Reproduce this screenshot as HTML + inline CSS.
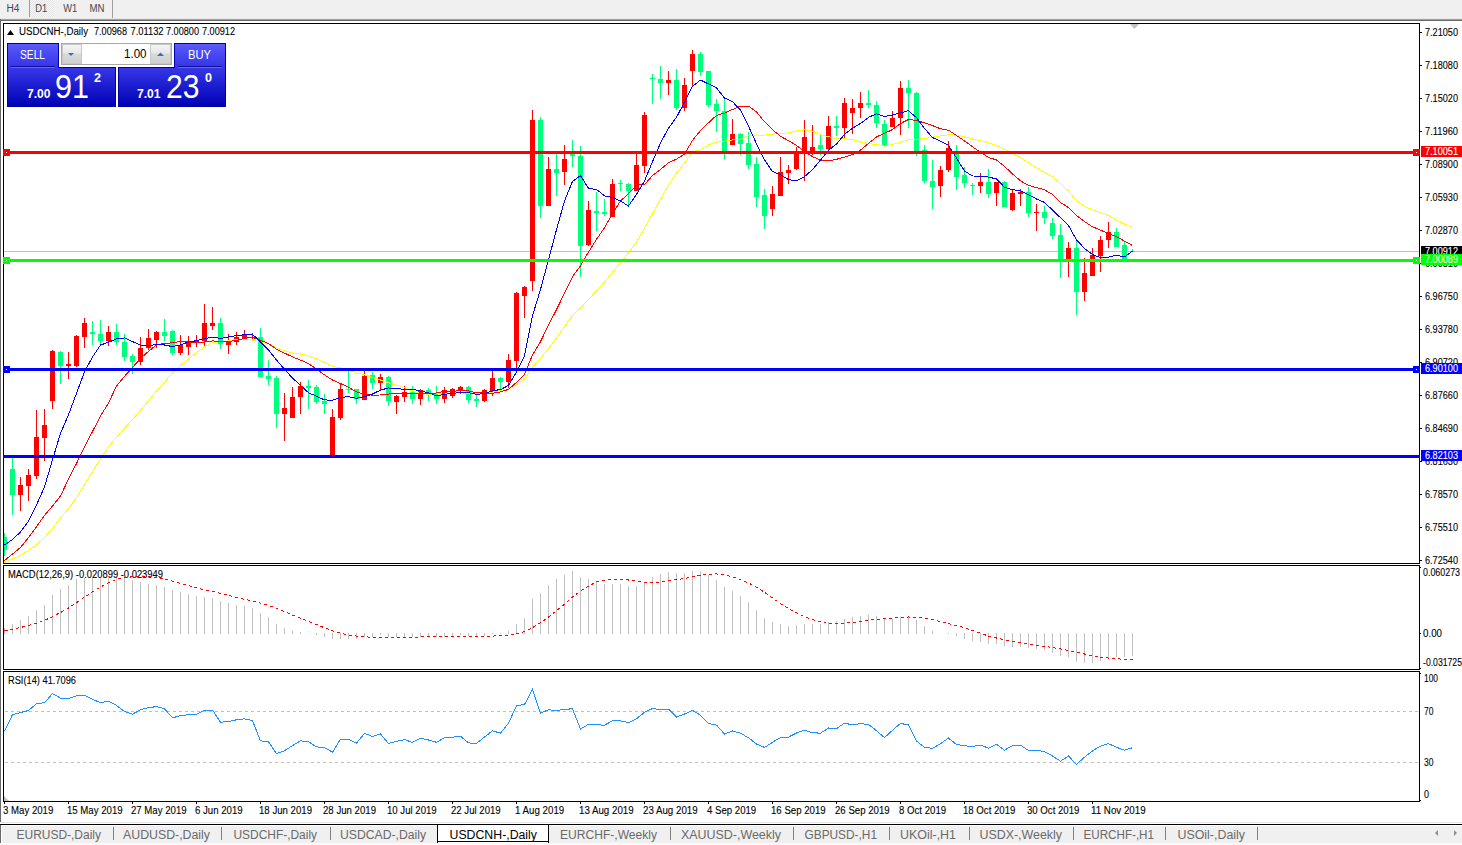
<!DOCTYPE html><html><head><meta charset="utf-8"><style>
html,body{margin:0;padding:0;width:1462px;height:845px;overflow:hidden;background:#fff;}
svg{display:block;font-family:"Liberation Sans",sans-serif;} text.k{stroke:#000;stroke-width:0.1;}
</style></head><body>
<svg width="1462" height="845" viewBox="0 0 1462 845">
<defs>
<pattern id="chk" width="2" height="2" patternUnits="userSpaceOnUse"><rect width="2" height="2" fill="#f7f7f7"/><rect width="1" height="1" fill="#e3e3e3"/><rect x="1" y="1" width="1" height="1" fill="#e3e3e3"/></pattern>
<linearGradient id="hdr" x1="0" y1="0" x2="0" y2="1"><stop offset="0" stop-color="#5c5cff"/><stop offset="1" stop-color="#3434e6"/></linearGradient>
<linearGradient id="blk" x1="0" y1="0" x2="0" y2="1"><stop offset="0" stop-color="#3838ea"/><stop offset="1" stop-color="#0000b4"/></linearGradient>
<linearGradient id="spb" x1="0" y1="0" x2="0" y2="1"><stop offset="0" stop-color="#f4f4f4"/><stop offset="0.45" stop-color="#e8e8e8"/><stop offset="0.5" stop-color="#d8d8d8"/><stop offset="1" stop-color="#cfcfcf"/></linearGradient>
<clipPath id="cmain"><rect x="4" y="24" width="1415" height="539"/></clipPath>
<clipPath id="cmacd"><rect x="4" y="566" width="1415" height="103"/></clipPath>
<clipPath id="crsi"><rect x="4" y="672" width="1415" height="129"/></clipPath>
</defs>
<rect x="0" y="0" width="1462" height="18" fill="#f0f0f0"/>
<rect x="30" y="0" width="24" height="17" fill="url(#chk)"/>
<rect x="29" y="0" width="1" height="17" fill="#a0a0a0"/>
<rect x="112" y="0" width="1" height="19" fill="#a0a0a0"/>
<rect x="0" y="18" width="1462" height="1" fill="#e8e8e8"/>
<rect x="0" y="19" width="1462" height="1" fill="#a0a0a0"/>
<rect x="0" y="20" width="1462" height="1" fill="#6a6a6a"/>
<text x="6.5" y="12" font-size="10" fill="#484848" textLength="13" lengthAdjust="spacingAndGlyphs">H4</text>
<text x="35.3" y="12" font-size="10" fill="#484848" textLength="12" lengthAdjust="spacingAndGlyphs">D1</text>
<text x="63.3" y="12" font-size="10" fill="#484848" textLength="14" lengthAdjust="spacingAndGlyphs">W1</text>
<text x="89.5" y="12" font-size="10" fill="#484848" textLength="15" lengthAdjust="spacingAndGlyphs">MN</text>
<rect x="0" y="19" width="1" height="803" fill="#6a6a6a"/>
<g shape-rendering="crispEdges" fill="none" stroke="#000" stroke-width="1">
<path d="M3.5,23.5H1419.5V563.5H3.5Z"/>
<path d="M3.5,565.5H1419.5V669.5H3.5Z"/>
<path d="M3.5,671.5H1419.5V801.5H3.5Z"/>
</g>
<g clip-path="url(#cmain)" shape-rendering="crispEdges">
<rect x="4" y="251" width="1415" height="1" fill="#c0c0c0"/>
<rect x="4" y="533" width="1" height="23" fill="#00ff7f"/>
<rect x="2" y="537" width="5" height="13" fill="#00ff7f"/>
<rect x="12" y="458" width="1" height="57" fill="#00ff7f"/>
<rect x="10" y="469" width="5" height="26" fill="#00ff7f"/>
<rect x="20" y="477" width="1" height="34" fill="#ff0000"/>
<rect x="18" y="485" width="5" height="10" fill="#ff0000"/>
<rect x="28" y="469" width="1" height="32" fill="#ff0000"/>
<rect x="26" y="475" width="5" height="11" fill="#ff0000"/>
<rect x="36" y="410" width="1" height="69" fill="#ff0000"/>
<rect x="34" y="437" width="5" height="39" fill="#ff0000"/>
<rect x="44" y="409" width="1" height="52" fill="#ff0000"/>
<rect x="42" y="425" width="5" height="13" fill="#ff0000"/>
<rect x="52" y="350" width="1" height="59" fill="#ff0000"/>
<rect x="50" y="351" width="5" height="50" fill="#ff0000"/>
<rect x="60" y="351" width="1" height="33" fill="#00ff7f"/>
<rect x="58" y="352" width="5" height="14" fill="#00ff7f"/>
<rect x="68" y="352" width="1" height="27" fill="#ff0000"/>
<rect x="66" y="364" width="5" height="2" fill="#ff0000"/>
<rect x="76" y="335" width="1" height="32" fill="#ff0000"/>
<rect x="74" y="336" width="5" height="30" fill="#ff0000"/>
<rect x="84" y="318" width="1" height="30" fill="#ff0000"/>
<rect x="82" y="323" width="5" height="14" fill="#ff0000"/>
<rect x="92" y="321" width="1" height="24" fill="#00ff7f"/>
<rect x="90" y="332" width="5" height="2" fill="#00ff7f"/>
<rect x="100" y="320" width="1" height="26" fill="#00ff7f"/>
<rect x="98" y="334" width="5" height="7" fill="#00ff7f"/>
<rect x="108" y="326" width="1" height="20" fill="#ff0000"/>
<rect x="106" y="332" width="5" height="9" fill="#ff0000"/>
<rect x="116" y="324" width="1" height="21" fill="#00ff7f"/>
<rect x="114" y="332" width="5" height="10" fill="#00ff7f"/>
<rect x="124" y="334" width="1" height="27" fill="#00ff7f"/>
<rect x="122" y="342" width="5" height="15" fill="#00ff7f"/>
<rect x="132" y="354" width="1" height="20" fill="#00ff7f"/>
<rect x="130" y="356" width="5" height="6" fill="#00ff7f"/>
<rect x="140" y="337" width="1" height="28" fill="#ff0000"/>
<rect x="138" y="348" width="5" height="14" fill="#ff0000"/>
<rect x="148" y="329" width="1" height="21" fill="#ff0000"/>
<rect x="146" y="338" width="5" height="10" fill="#ff0000"/>
<rect x="156" y="331" width="1" height="17" fill="#ff0000"/>
<rect x="154" y="332" width="5" height="8" fill="#ff0000"/>
<rect x="164" y="319" width="1" height="22" fill="#00ff7f"/>
<rect x="162" y="332" width="5" height="4" fill="#00ff7f"/>
<rect x="172" y="330" width="1" height="25" fill="#00ff7f"/>
<rect x="170" y="331" width="5" height="22" fill="#00ff7f"/>
<rect x="180" y="335" width="1" height="20" fill="#ff0000"/>
<rect x="178" y="345" width="5" height="8" fill="#ff0000"/>
<rect x="188" y="336" width="1" height="19" fill="#ff0000"/>
<rect x="186" y="341" width="5" height="6" fill="#ff0000"/>
<rect x="196" y="335" width="1" height="12" fill="#ff0000"/>
<rect x="194" y="340" width="5" height="2" fill="#ff0000"/>
<rect x="204" y="304" width="1" height="42" fill="#ff0000"/>
<rect x="202" y="323" width="5" height="18" fill="#ff0000"/>
<rect x="212" y="307" width="1" height="23" fill="#ff0000"/>
<rect x="210" y="323" width="5" height="3" fill="#ff0000"/>
<rect x="220" y="318" width="1" height="31" fill="#00ff7f"/>
<rect x="218" y="323" width="5" height="21" fill="#00ff7f"/>
<rect x="228" y="334" width="1" height="20" fill="#ff0000"/>
<rect x="226" y="342" width="5" height="3" fill="#ff0000"/>
<rect x="236" y="332" width="1" height="13" fill="#ff0000"/>
<rect x="234" y="337" width="5" height="5" fill="#ff0000"/>
<rect x="244" y="330" width="1" height="9" fill="#ff0000"/>
<rect x="242" y="334" width="5" height="5" fill="#ff0000"/>
<rect x="252" y="333" width="1" height="7" fill="#ff0000"/>
<rect x="250" y="337" width="5" height="1" fill="#ff0000"/>
<rect x="260" y="328" width="1" height="49" fill="#00ff7f"/>
<rect x="258" y="337" width="5" height="40" fill="#00ff7f"/>
<rect x="268" y="360" width="1" height="25" fill="#00ff7f"/>
<rect x="266" y="376" width="5" height="3" fill="#00ff7f"/>
<rect x="276" y="376" width="1" height="52" fill="#00ff7f"/>
<rect x="274" y="378" width="5" height="36" fill="#00ff7f"/>
<rect x="284" y="393" width="1" height="48" fill="#ff0000"/>
<rect x="282" y="408" width="5" height="6" fill="#ff0000"/>
<rect x="292" y="387" width="1" height="31" fill="#ff0000"/>
<rect x="290" y="397" width="5" height="21" fill="#ff0000"/>
<rect x="300" y="382" width="1" height="32" fill="#ff0000"/>
<rect x="298" y="386" width="5" height="11" fill="#ff0000"/>
<rect x="308" y="380" width="1" height="29" fill="#00ff7f"/>
<rect x="306" y="386" width="5" height="2" fill="#00ff7f"/>
<rect x="316" y="385" width="1" height="19" fill="#00ff7f"/>
<rect x="314" y="387" width="5" height="15" fill="#00ff7f"/>
<rect x="324" y="394" width="1" height="20" fill="#00ff7f"/>
<rect x="322" y="401" width="5" height="3" fill="#00ff7f"/>
<rect x="332" y="409" width="1" height="47" fill="#ff0000"/>
<rect x="330" y="417" width="5" height="38" fill="#ff0000"/>
<rect x="340" y="384" width="1" height="36" fill="#ff0000"/>
<rect x="338" y="389" width="5" height="29" fill="#ff0000"/>
<rect x="348" y="371" width="1" height="22" fill="#00ff7f"/>
<rect x="346" y="389" width="5" height="1" fill="#00ff7f"/>
<rect x="356" y="389" width="1" height="15" fill="#00ff7f"/>
<rect x="354" y="389" width="5" height="10" fill="#00ff7f"/>
<rect x="364" y="371" width="1" height="29" fill="#ff0000"/>
<rect x="362" y="376" width="5" height="24" fill="#ff0000"/>
<rect x="372" y="372" width="1" height="17" fill="#00ff7f"/>
<rect x="370" y="375" width="5" height="8" fill="#00ff7f"/>
<rect x="380" y="374" width="1" height="16" fill="#ff0000"/>
<rect x="378" y="377" width="5" height="6" fill="#ff0000"/>
<rect x="388" y="376" width="1" height="30" fill="#00ff7f"/>
<rect x="386" y="377" width="5" height="24" fill="#00ff7f"/>
<rect x="396" y="395" width="1" height="19" fill="#ff0000"/>
<rect x="394" y="396" width="5" height="6" fill="#ff0000"/>
<rect x="404" y="386" width="1" height="16" fill="#ff0000"/>
<rect x="402" y="392" width="5" height="5" fill="#ff0000"/>
<rect x="412" y="386" width="1" height="18" fill="#00ff7f"/>
<rect x="410" y="392" width="5" height="7" fill="#00ff7f"/>
<rect x="420" y="389" width="1" height="16" fill="#ff0000"/>
<rect x="418" y="390" width="5" height="9" fill="#ff0000"/>
<rect x="428" y="388" width="1" height="13" fill="#00ff7f"/>
<rect x="426" y="390" width="5" height="4" fill="#00ff7f"/>
<rect x="436" y="386" width="1" height="18" fill="#00ff7f"/>
<rect x="434" y="394" width="5" height="5" fill="#00ff7f"/>
<rect x="444" y="387" width="1" height="16" fill="#ff0000"/>
<rect x="442" y="390" width="5" height="9" fill="#ff0000"/>
<rect x="452" y="388" width="1" height="10" fill="#ff0000"/>
<rect x="450" y="389" width="5" height="7" fill="#ff0000"/>
<rect x="460" y="386" width="1" height="8" fill="#ff0000"/>
<rect x="458" y="387" width="5" height="3" fill="#ff0000"/>
<rect x="468" y="386" width="1" height="17" fill="#00ff7f"/>
<rect x="466" y="387" width="5" height="13" fill="#00ff7f"/>
<rect x="476" y="395" width="1" height="12" fill="#00ff7f"/>
<rect x="474" y="399" width="5" height="2" fill="#00ff7f"/>
<rect x="484" y="389" width="1" height="13" fill="#ff0000"/>
<rect x="482" y="390" width="5" height="11" fill="#ff0000"/>
<rect x="492" y="371" width="1" height="25" fill="#ff0000"/>
<rect x="490" y="378" width="5" height="13" fill="#ff0000"/>
<rect x="500" y="377" width="1" height="12" fill="#00ff7f"/>
<rect x="498" y="378" width="5" height="4" fill="#00ff7f"/>
<rect x="508" y="354" width="1" height="34" fill="#ff0000"/>
<rect x="506" y="360" width="5" height="22" fill="#ff0000"/>
<rect x="516" y="292" width="1" height="76" fill="#ff0000"/>
<rect x="514" y="293" width="5" height="68" fill="#ff0000"/>
<rect x="524" y="286" width="1" height="32" fill="#ff0000"/>
<rect x="522" y="287" width="5" height="9" fill="#ff0000"/>
<rect x="532" y="110" width="1" height="181" fill="#ff0000"/>
<rect x="530" y="120" width="5" height="161" fill="#ff0000"/>
<rect x="540" y="117" width="1" height="101" fill="#00ff7f"/>
<rect x="538" y="120" width="5" height="86" fill="#00ff7f"/>
<rect x="548" y="157" width="1" height="49" fill="#ff0000"/>
<rect x="546" y="169" width="5" height="37" fill="#ff0000"/>
<rect x="556" y="153" width="1" height="43" fill="#00ff7f"/>
<rect x="554" y="169" width="5" height="4" fill="#00ff7f"/>
<rect x="564" y="145" width="1" height="40" fill="#ff0000"/>
<rect x="562" y="159" width="5" height="13" fill="#ff0000"/>
<rect x="572" y="140" width="1" height="27" fill="#00ff7f"/>
<rect x="570" y="153" width="5" height="3" fill="#00ff7f"/>
<rect x="580" y="146" width="1" height="131" fill="#00ff7f"/>
<rect x="578" y="156" width="5" height="90" fill="#00ff7f"/>
<rect x="588" y="201" width="1" height="45" fill="#ff0000"/>
<rect x="586" y="210" width="5" height="35" fill="#ff0000"/>
<rect x="596" y="192" width="1" height="39" fill="#00ff7f"/>
<rect x="594" y="211" width="5" height="2" fill="#00ff7f"/>
<rect x="604" y="199" width="1" height="17" fill="#00ff7f"/>
<rect x="602" y="212" width="5" height="2" fill="#00ff7f"/>
<rect x="612" y="179" width="1" height="38" fill="#ff0000"/>
<rect x="610" y="184" width="5" height="33" fill="#ff0000"/>
<rect x="620" y="180" width="1" height="11" fill="#00ff7f"/>
<rect x="618" y="183" width="5" height="1" fill="#00ff7f"/>
<rect x="628" y="183" width="1" height="22" fill="#00ff7f"/>
<rect x="626" y="184" width="5" height="7" fill="#00ff7f"/>
<rect x="636" y="153" width="1" height="38" fill="#ff0000"/>
<rect x="634" y="165" width="5" height="26" fill="#ff0000"/>
<rect x="644" y="112" width="1" height="61" fill="#ff0000"/>
<rect x="642" y="115" width="5" height="51" fill="#ff0000"/>
<rect x="652" y="74" width="1" height="30" fill="#00ff7f"/>
<rect x="650" y="78" width="5" height="1" fill="#00ff7f"/>
<rect x="660" y="66" width="1" height="33" fill="#00ff7f"/>
<rect x="658" y="79" width="5" height="4" fill="#00ff7f"/>
<rect x="668" y="71" width="1" height="24" fill="#ff0000"/>
<rect x="666" y="80" width="5" height="3" fill="#ff0000"/>
<rect x="676" y="69" width="1" height="41" fill="#00ff7f"/>
<rect x="674" y="80" width="5" height="28" fill="#00ff7f"/>
<rect x="684" y="78" width="1" height="33" fill="#ff0000"/>
<rect x="682" y="85" width="5" height="23" fill="#ff0000"/>
<rect x="692" y="50" width="1" height="36" fill="#ff0000"/>
<rect x="690" y="54" width="5" height="17" fill="#ff0000"/>
<rect x="700" y="52" width="1" height="24" fill="#00ff7f"/>
<rect x="698" y="54" width="5" height="18" fill="#00ff7f"/>
<rect x="708" y="71" width="1" height="36" fill="#00ff7f"/>
<rect x="706" y="71" width="5" height="34" fill="#00ff7f"/>
<rect x="716" y="99" width="1" height="33" fill="#00ff7f"/>
<rect x="714" y="104" width="5" height="7" fill="#00ff7f"/>
<rect x="724" y="98" width="1" height="61" fill="#00ff7f"/>
<rect x="722" y="111" width="5" height="40" fill="#00ff7f"/>
<rect x="732" y="119" width="1" height="26" fill="#ff0000"/>
<rect x="730" y="134" width="5" height="11" fill="#ff0000"/>
<rect x="740" y="133" width="1" height="22" fill="#00ff7f"/>
<rect x="738" y="134" width="5" height="10" fill="#00ff7f"/>
<rect x="748" y="132" width="1" height="37" fill="#00ff7f"/>
<rect x="746" y="143" width="5" height="22" fill="#00ff7f"/>
<rect x="756" y="157" width="1" height="50" fill="#00ff7f"/>
<rect x="754" y="164" width="5" height="33" fill="#00ff7f"/>
<rect x="764" y="189" width="1" height="40" fill="#00ff7f"/>
<rect x="762" y="195" width="5" height="21" fill="#00ff7f"/>
<rect x="772" y="186" width="1" height="30" fill="#ff0000"/>
<rect x="770" y="194" width="5" height="15" fill="#ff0000"/>
<rect x="780" y="157" width="1" height="39" fill="#ff0000"/>
<rect x="778" y="172" width="5" height="24" fill="#ff0000"/>
<rect x="788" y="165" width="1" height="19" fill="#ff0000"/>
<rect x="786" y="170" width="5" height="3" fill="#ff0000"/>
<rect x="796" y="147" width="1" height="23" fill="#ff0000"/>
<rect x="794" y="151" width="5" height="18" fill="#ff0000"/>
<rect x="804" y="120" width="1" height="61" fill="#ff0000"/>
<rect x="802" y="137" width="5" height="17" fill="#ff0000"/>
<rect x="812" y="125" width="1" height="30" fill="#ff0000"/>
<rect x="810" y="147" width="5" height="7" fill="#ff0000"/>
<rect x="820" y="134" width="1" height="21" fill="#00ff7f"/>
<rect x="818" y="145" width="5" height="4" fill="#00ff7f"/>
<rect x="828" y="116" width="1" height="34" fill="#ff0000"/>
<rect x="826" y="126" width="5" height="23" fill="#ff0000"/>
<rect x="836" y="116" width="1" height="20" fill="#00ff7f"/>
<rect x="834" y="126" width="5" height="2" fill="#00ff7f"/>
<rect x="844" y="98" width="1" height="41" fill="#ff0000"/>
<rect x="842" y="103" width="5" height="25" fill="#ff0000"/>
<rect x="852" y="99" width="1" height="35" fill="#ff0000"/>
<rect x="850" y="108" width="5" height="5" fill="#ff0000"/>
<rect x="860" y="92" width="1" height="26" fill="#ff0000"/>
<rect x="858" y="103" width="5" height="5" fill="#ff0000"/>
<rect x="868" y="90" width="1" height="18" fill="#00ff7f"/>
<rect x="866" y="103" width="5" height="2" fill="#00ff7f"/>
<rect x="876" y="101" width="1" height="27" fill="#00ff7f"/>
<rect x="874" y="105" width="5" height="18" fill="#00ff7f"/>
<rect x="884" y="120" width="1" height="27" fill="#00ff7f"/>
<rect x="882" y="124" width="5" height="21" fill="#00ff7f"/>
<rect x="892" y="111" width="1" height="16" fill="#ff0000"/>
<rect x="890" y="118" width="5" height="9" fill="#ff0000"/>
<rect x="900" y="81" width="1" height="54" fill="#ff0000"/>
<rect x="898" y="88" width="5" height="30" fill="#ff0000"/>
<rect x="908" y="80" width="1" height="48" fill="#00ff7f"/>
<rect x="906" y="88" width="5" height="5" fill="#00ff7f"/>
<rect x="916" y="92" width="1" height="64" fill="#00ff7f"/>
<rect x="914" y="93" width="5" height="58" fill="#00ff7f"/>
<rect x="924" y="145" width="1" height="38" fill="#00ff7f"/>
<rect x="922" y="150" width="5" height="31" fill="#00ff7f"/>
<rect x="932" y="160" width="1" height="49" fill="#00ff7f"/>
<rect x="930" y="181" width="5" height="6" fill="#00ff7f"/>
<rect x="940" y="166" width="1" height="31" fill="#ff0000"/>
<rect x="938" y="170" width="5" height="16" fill="#ff0000"/>
<rect x="948" y="141" width="1" height="31" fill="#ff0000"/>
<rect x="946" y="148" width="5" height="22" fill="#ff0000"/>
<rect x="956" y="145" width="1" height="45" fill="#00ff7f"/>
<rect x="954" y="151" width="5" height="26" fill="#00ff7f"/>
<rect x="964" y="167" width="1" height="21" fill="#00ff7f"/>
<rect x="962" y="175" width="5" height="8" fill="#00ff7f"/>
<rect x="972" y="183" width="1" height="12" fill="#00ff7f"/>
<rect x="970" y="185" width="5" height="1" fill="#00ff7f"/>
<rect x="980" y="173" width="1" height="20" fill="#ff0000"/>
<rect x="978" y="182" width="5" height="4" fill="#ff0000"/>
<rect x="988" y="169" width="1" height="29" fill="#00ff7f"/>
<rect x="986" y="182" width="5" height="12" fill="#00ff7f"/>
<rect x="996" y="182" width="1" height="24" fill="#ff0000"/>
<rect x="994" y="182" width="5" height="11" fill="#ff0000"/>
<rect x="1004" y="181" width="1" height="26" fill="#00ff7f"/>
<rect x="1002" y="182" width="5" height="25" fill="#00ff7f"/>
<rect x="1012" y="190" width="1" height="21" fill="#ff0000"/>
<rect x="1010" y="193" width="5" height="17" fill="#ff0000"/>
<rect x="1020" y="189" width="1" height="17" fill="#ff0000"/>
<rect x="1018" y="192" width="5" height="2" fill="#ff0000"/>
<rect x="1028" y="187" width="1" height="30" fill="#00ff7f"/>
<rect x="1026" y="192" width="5" height="21" fill="#00ff7f"/>
<rect x="1036" y="204" width="1" height="27" fill="#ff0000"/>
<rect x="1034" y="212" width="5" height="1" fill="#ff0000"/>
<rect x="1044" y="206" width="1" height="18" fill="#00ff7f"/>
<rect x="1042" y="212" width="5" height="6" fill="#00ff7f"/>
<rect x="1052" y="218" width="1" height="21" fill="#00ff7f"/>
<rect x="1050" y="223" width="5" height="13" fill="#00ff7f"/>
<rect x="1060" y="224" width="1" height="54" fill="#00ff7f"/>
<rect x="1058" y="235" width="5" height="25" fill="#00ff7f"/>
<rect x="1068" y="242" width="1" height="35" fill="#ff0000"/>
<rect x="1066" y="248" width="5" height="11" fill="#ff0000"/>
<rect x="1076" y="241" width="1" height="74" fill="#00ff7f"/>
<rect x="1074" y="248" width="5" height="44" fill="#00ff7f"/>
<rect x="1084" y="258" width="1" height="43" fill="#ff0000"/>
<rect x="1082" y="273" width="5" height="19" fill="#ff0000"/>
<rect x="1092" y="248" width="1" height="28" fill="#ff0000"/>
<rect x="1090" y="255" width="5" height="21" fill="#ff0000"/>
<rect x="1100" y="236" width="1" height="36" fill="#ff0000"/>
<rect x="1098" y="240" width="5" height="16" fill="#ff0000"/>
<rect x="1108" y="222" width="1" height="26" fill="#ff0000"/>
<rect x="1106" y="232" width="5" height="8" fill="#ff0000"/>
<rect x="1116" y="228" width="1" height="19" fill="#00ff7f"/>
<rect x="1114" y="232" width="5" height="15" fill="#00ff7f"/>
<rect x="1124" y="242" width="1" height="17" fill="#00ff7f"/>
<rect x="1122" y="245" width="5" height="14" fill="#00ff7f"/>
<rect x="1132" y="249" width="1" height="3" fill="#00ff7f"/>
<rect x="1130" y="251" width="5" height="1" fill="#00ff7f"/>
</g>
<polyline clip-path="url(#cmain)" points="4.5,562.5 12.5,559.0 20.5,555.5 28.5,550.5 36.5,545.0 44.5,537.5 52.5,528.5 60.5,518.0 68.5,509.0 76.5,497.5 84.5,484.6 92.5,471.6 100.5,459.0 108.5,446.5 116.5,437.3 124.5,428.2 132.5,419.5 140.5,410.2 148.5,400.6 156.5,391.1 164.5,382.3 172.5,373.0 180.5,365.8 188.5,359.0 196.5,352.5 204.5,347.1 212.5,342.2 220.5,341.9 228.5,340.8 236.5,339.5 244.5,339.4 252.5,340.0 260.5,342.1 268.5,343.9 276.5,347.8 284.5,351.0 292.5,352.9 300.5,354.0 308.5,355.9 316.5,359.0 324.5,362.4 332.5,366.2 340.5,368.0 348.5,370.1 356.5,372.9 364.5,374.6 372.5,377.4 380.5,380.0 388.5,382.7 396.5,385.3 404.5,387.9 412.5,391.0 420.5,393.5 428.5,394.3 436.5,395.3 444.5,394.1 452.5,393.2 460.5,392.8 468.5,393.4 476.5,394.0 484.5,393.5 492.5,392.2 500.5,390.6 508.5,389.2 516.5,384.6 524.5,379.2 532.5,367.0 540.5,358.6 548.5,348.7 556.5,337.9 564.5,326.6 572.5,315.3 580.5,308.0 588.5,299.5 596.5,290.9 604.5,282.0 612.5,272.2 620.5,262.5 628.5,253.1 636.5,242.0 644.5,228.3 652.5,213.5 660.5,199.5 668.5,185.1 676.5,173.1 684.5,163.2 692.5,152.1 700.5,149.8 708.5,145.0 716.5,142.2 724.5,141.2 732.5,140.0 740.5,139.4 748.5,135.6 756.5,135.0 764.5,135.1 772.5,134.1 780.5,133.6 788.5,132.9 796.5,131.0 804.5,129.7 812.5,131.2 820.5,134.5 828.5,136.6 836.5,138.9 844.5,138.6 852.5,139.7 860.5,142.0 868.5,143.6 876.5,144.5 884.5,146.1 892.5,144.5 900.5,142.3 908.5,139.9 916.5,139.2 924.5,138.5 932.5,137.1 940.5,136.0 948.5,134.8 956.5,135.1 964.5,136.7 972.5,139.0 980.5,140.7 988.5,142.8 996.5,145.5 1004.5,149.2 1012.5,153.5 1020.5,157.5 1028.5,162.8 1036.5,167.9 1044.5,172.4 1052.5,176.7 1060.5,183.5 1068.5,191.1 1076.5,200.6 1084.5,206.4 1092.5,209.9 1100.5,212.4 1108.5,215.4 1116.5,220.1 1124.5,224.0 1132.5,227.3" fill="none" stroke="#ffff00" stroke-width="1" shape-rendering="crispEdges"/>
<polyline clip-path="url(#cmain)" points="4.5,560.6 12.5,554.0 20.5,547.5 28.5,537.6 36.5,526.7 44.5,515.3 52.5,506.0 60.5,496.0 68.5,479.0 76.5,463.5 84.5,447.0 92.5,431.5 100.5,416.0 108.5,403.0 116.5,386.1 124.5,376.3 132.5,367.5 140.5,358.4 148.5,351.4 156.5,344.7 164.5,343.6 172.5,342.7 180.5,341.4 188.5,341.7 196.5,342.9 204.5,342.1 212.5,340.9 220.5,341.7 228.5,341.7 236.5,340.3 244.5,338.3 252.5,337.5 260.5,340.3 268.5,343.6 276.5,349.2 284.5,353.1 292.5,356.9 300.5,360.1 308.5,363.5 316.5,369.1 324.5,374.9 332.5,380.1 340.5,383.5 348.5,387.3 356.5,391.9 364.5,394.7 372.5,395.1 380.5,395.0 388.5,394.1 396.5,393.2 404.5,392.9 412.5,393.8 420.5,393.9 428.5,393.4 436.5,393.0 444.5,391.1 452.5,391.1 460.5,390.9 468.5,390.9 476.5,392.7 484.5,393.2 492.5,393.3 500.5,391.9 508.5,389.4 516.5,382.3 524.5,374.3 532.5,355.0 540.5,341.6 548.5,325.1 556.5,309.6 564.5,293.2 572.5,276.7 580.5,265.7 588.5,252.1 596.5,239.4 604.5,227.7 612.5,213.6 620.5,201.0 628.5,193.7 636.5,185.0 644.5,184.6 652.5,175.6 660.5,169.4 668.5,162.8 676.5,159.1 684.5,154.1 692.5,140.4 700.5,130.5 708.5,122.8 716.5,115.4 724.5,113.1 732.5,109.5 740.5,106.1 748.5,106.1 756.5,112.0 764.5,121.8 772.5,129.7 780.5,136.3 788.5,140.7 796.5,145.4 804.5,151.4 812.5,156.7 820.5,159.9 828.5,160.9 836.5,159.3 844.5,157.1 852.5,154.5 860.5,150.1 868.5,143.5 876.5,136.9 884.5,133.4 892.5,129.5 900.5,123.6 908.5,119.5 916.5,120.5 924.5,122.9 932.5,125.6 940.5,128.8 948.5,130.2 956.5,135.5 964.5,140.9 972.5,146.8 980.5,152.3 988.5,157.4 996.5,160.0 1004.5,166.4 1012.5,173.9 1020.5,180.9 1028.5,185.4 1036.5,187.6 1044.5,189.8 1052.5,194.5 1060.5,202.5 1068.5,207.6 1076.5,215.4 1084.5,221.6 1092.5,226.8 1100.5,230.1 1108.5,233.6 1116.5,236.5 1124.5,241.2 1132.5,245.5" fill="none" stroke="#ff0000" stroke-width="1" shape-rendering="crispEdges"/>
<polyline clip-path="url(#cmain)" points="4.5,545.0 12.5,539.5 20.5,532.0 28.5,521.0 36.5,505.0 44.5,487.0 52.5,459.7 60.5,433.4 68.5,414.7 76.5,393.4 84.5,371.7 92.5,357.0 100.5,345.0 108.5,342.3 116.5,338.9 124.5,337.9 132.5,341.6 140.5,345.1 148.5,345.7 156.5,344.4 164.5,345.0 172.5,346.6 180.5,344.9 188.5,341.9 196.5,340.7 204.5,338.6 212.5,337.3 220.5,338.4 228.5,336.9 236.5,335.7 244.5,334.7 252.5,334.3 260.5,342.0 268.5,350.0 276.5,360.0 284.5,369.4 292.5,378.0 300.5,385.4 308.5,392.7 316.5,396.3 324.5,399.9 332.5,400.3 340.5,397.6 348.5,396.6 356.5,398.4 364.5,396.7 372.5,394.0 380.5,390.1 388.5,387.9 396.5,388.9 404.5,389.1 412.5,389.1 420.5,391.1 428.5,392.7 436.5,395.9 444.5,394.3 452.5,393.3 460.5,392.6 468.5,392.7 476.5,394.3 484.5,393.7 492.5,390.7 500.5,389.6 508.5,385.4 516.5,372.0 524.5,355.9 532.5,315.7 540.5,289.4 548.5,259.6 556.5,229.7 564.5,201.0 572.5,181.4 580.5,175.6 588.5,188.4 596.5,189.4 604.5,195.9 612.5,197.4 620.5,201.0 628.5,206.0 636.5,194.4 644.5,180.9 652.5,161.7 660.5,143.0 668.5,128.1 676.5,117.3 684.5,102.1 692.5,86.3 700.5,80.1 708.5,83.9 716.5,87.9 724.5,98.0 732.5,101.7 740.5,110.1 748.5,126.0 756.5,143.9 764.5,159.7 772.5,171.6 780.5,174.6 788.5,179.7 796.5,180.7 804.5,176.7 812.5,169.6 820.5,160.0 828.5,150.3 836.5,144.0 844.5,134.4 852.5,128.3 860.5,123.4 868.5,117.4 876.5,113.7 884.5,116.4 892.5,115.0 900.5,112.9 908.5,110.7 916.5,117.6 924.5,128.4 932.5,137.6 940.5,141.1 948.5,145.4 956.5,158.1 964.5,171.0 972.5,176.0 980.5,176.1 988.5,177.1 996.5,178.9 1004.5,187.3 1012.5,189.6 1020.5,190.9 1028.5,194.7 1036.5,199.0 1044.5,202.4 1052.5,210.1 1060.5,217.7 1068.5,225.6 1076.5,239.9 1084.5,248.4 1092.5,254.6 1100.5,257.7 1108.5,257.1 1116.5,255.3 1124.5,256.9 1132.5,251.1" fill="none" stroke="#0000ff" stroke-width="1" shape-rendering="crispEdges"/>
<rect x="3" y="151" width="1417" height="3" fill="#ff0000" shape-rendering="crispEdges"/>
<rect x="3" y="149" width="7" height="7" fill="#ff0000" shape-rendering="crispEdges"/><rect x="6" y="152" width="1" height="1" fill="#fff"/>
<rect x="1413" y="149" width="7" height="7" fill="#ff0000" shape-rendering="crispEdges"/><rect x="1416" y="152" width="1" height="1" fill="#fff"/>
<rect x="3" y="259" width="1417" height="3" fill="#00ff00" shape-rendering="crispEdges"/>
<rect x="3" y="257" width="7" height="7" fill="#00ff00" shape-rendering="crispEdges"/><rect x="6" y="260" width="1" height="1" fill="#fff"/>
<rect x="1413" y="257" width="7" height="7" fill="#00ff00" shape-rendering="crispEdges"/><rect x="1416" y="260" width="1" height="1" fill="#fff"/>
<rect x="3" y="368" width="1417" height="3" fill="#0000ff" shape-rendering="crispEdges"/>
<rect x="3" y="366" width="7" height="7" fill="#0000ff" shape-rendering="crispEdges"/><rect x="6" y="369" width="1" height="1" fill="#fff"/>
<rect x="1413" y="366" width="7" height="7" fill="#0000ff" shape-rendering="crispEdges"/><rect x="1416" y="369" width="1" height="1" fill="#fff"/>
<rect x="3" y="455" width="1417" height="3" fill="#0000ff" shape-rendering="crispEdges"/>
<polygon points="1130,24 1139,24 1134.5,29" fill="#c0c0c0"/>
<polygon points="7,35 14,35 10.5,30" fill="#000"/>
<text x="19" y="35" class="k" font-size="10" fill="#000" textLength="69" lengthAdjust="spacingAndGlyphs">USDCNH-,Daily</text>
<text x="94" y="35" class="k" font-size="10" fill="#000" textLength="33" lengthAdjust="spacingAndGlyphs">7.00968</text>
<text x="130.5" y="35" class="k" font-size="10" fill="#000" textLength="33" lengthAdjust="spacingAndGlyphs">7.01132</text>
<text x="166" y="35" class="k" font-size="10" fill="#000" textLength="33" lengthAdjust="spacingAndGlyphs">7.00800</text>
<text x="202" y="35" class="k" font-size="10" fill="#000" textLength="33" lengthAdjust="spacingAndGlyphs">7.00912</text>
<g shape-rendering="crispEdges">
<rect x="7" y="43" width="52" height="24" fill="url(#hdr)"/>
<rect x="7" y="67" width="109" height="40" fill="url(#blk)"/>
<rect x="174" y="43" width="52" height="24" fill="url(#hdr)"/>
<rect x="118" y="67" width="108" height="40" fill="url(#blk)"/>
<rect x="11" y="66" width="44" height="1" fill="#10109a"/><rect x="178" y="66" width="44" height="1" fill="#10109a"/>
<rect x="11" y="67" width="44" height="1" fill="#6060ff"/><rect x="178" y="67" width="44" height="1" fill="#6060ff"/>
<path d="M7.5,43.5H58.5V67.5H115.5V106.5H7.5Z" fill="none" stroke="#0000a8"/>
<path d="M174.5,43.5H225.5V106.5H118.5V67.5H174.5Z" fill="none" stroke="#0000a8"/>
<rect x="61.5" y="43.5" width="110" height="21" fill="#fff" stroke="#a8a8a8"/>
<rect x="62.5" y="44.5" width="19" height="19" fill="url(#spb)" stroke="#c8c8c8"/>
<rect x="150.5" y="44.5" width="20" height="19" fill="url(#spb)" stroke="#c8c8c8"/>
</g>
<polygon points="68,53 74,53 71,56" fill="#5068b0"/><polygon points="157,56 164,56 160.5,52.5" fill="#5068b0"/>
<text x="20" y="59" font-size="12" fill="#fff" textLength="25" lengthAdjust="spacingAndGlyphs">SELL</text>
<text x="188" y="59" font-size="12" fill="#fff" textLength="23" lengthAdjust="spacingAndGlyphs">BUY</text>
<text x="124" y="58" font-size="12" fill="#000" textLength="22.5" lengthAdjust="spacingAndGlyphs">1.00</text>
<text x="27" y="98" font-size="12.5" font-weight="bold" fill="#fff" textLength="23.5" lengthAdjust="spacingAndGlyphs">7.00</text>
<text x="55" y="98" font-size="33" fill="#fff" textLength="34" lengthAdjust="spacingAndGlyphs">91</text>
<text x="94" y="82" font-size="12.5" font-weight="bold" fill="#fff" textLength="7" lengthAdjust="spacingAndGlyphs">2</text>
<text x="137" y="98" font-size="12.5" font-weight="bold" fill="#fff" textLength="23.5" lengthAdjust="spacingAndGlyphs">7.01</text>
<text x="166" y="98" font-size="33" fill="#fff" textLength="33.5" lengthAdjust="spacingAndGlyphs">23</text>
<text x="205" y="82" font-size="12.5" font-weight="bold" fill="#fff" textLength="7" lengthAdjust="spacingAndGlyphs">0</text>
<g shape-rendering="crispEdges">
<rect x="1420" y="32" width="2" height="1" fill="#000"/>
<rect x="1420" y="65" width="2" height="1" fill="#000"/>
<rect x="1420" y="98" width="2" height="1" fill="#000"/>
<rect x="1420" y="131" width="2" height="1" fill="#000"/>
<rect x="1420" y="164" width="2" height="1" fill="#000"/>
<rect x="1420" y="197" width="2" height="1" fill="#000"/>
<rect x="1420" y="230" width="2" height="1" fill="#000"/>
<rect x="1420" y="263" width="2" height="1" fill="#000"/>
<rect x="1420" y="296" width="2" height="1" fill="#000"/>
<rect x="1420" y="329" width="2" height="1" fill="#000"/>
<rect x="1420" y="362" width="2" height="1" fill="#000"/>
<rect x="1420" y="395" width="2" height="1" fill="#000"/>
<rect x="1420" y="428" width="2" height="1" fill="#000"/>
<rect x="1420" y="461" width="2" height="1" fill="#000"/>
<rect x="1420" y="494" width="2" height="1" fill="#000"/>
<rect x="1420" y="527" width="2" height="1" fill="#000"/>
<rect x="1420" y="560" width="2" height="1" fill="#000"/>
</g>
<text x="1425" y="36" class="k" font-size="10" fill="#000" textLength="33" lengthAdjust="spacingAndGlyphs">7.21050</text>
<text x="1425" y="69" class="k" font-size="10" fill="#000" textLength="33" lengthAdjust="spacingAndGlyphs">7.18080</text>
<text x="1425" y="102" class="k" font-size="10" fill="#000" textLength="33" lengthAdjust="spacingAndGlyphs">7.15020</text>
<text x="1425" y="135" class="k" font-size="10" fill="#000" textLength="33" lengthAdjust="spacingAndGlyphs">7.11960</text>
<text x="1425" y="168" class="k" font-size="10" fill="#000" textLength="33" lengthAdjust="spacingAndGlyphs">7.08900</text>
<text x="1425" y="201" class="k" font-size="10" fill="#000" textLength="33" lengthAdjust="spacingAndGlyphs">7.05930</text>
<text x="1425" y="234" class="k" font-size="10" fill="#000" textLength="33" lengthAdjust="spacingAndGlyphs">7.02870</text>
<text x="1425" y="267" class="k" font-size="10" fill="#000" textLength="33" lengthAdjust="spacingAndGlyphs">6.99810</text>
<text x="1425" y="300" class="k" font-size="10" fill="#000" textLength="33" lengthAdjust="spacingAndGlyphs">6.96750</text>
<text x="1425" y="333" class="k" font-size="10" fill="#000" textLength="33" lengthAdjust="spacingAndGlyphs">6.93780</text>
<text x="1425" y="366" class="k" font-size="10" fill="#000" textLength="33" lengthAdjust="spacingAndGlyphs">6.90720</text>
<text x="1425" y="399" class="k" font-size="10" fill="#000" textLength="33" lengthAdjust="spacingAndGlyphs">6.87660</text>
<text x="1425" y="432" class="k" font-size="10" fill="#000" textLength="33" lengthAdjust="spacingAndGlyphs">6.84690</text>
<text x="1425" y="465" class="k" font-size="10" fill="#000" textLength="33" lengthAdjust="spacingAndGlyphs">6.81630</text>
<text x="1425" y="498" class="k" font-size="10" fill="#000" textLength="33" lengthAdjust="spacingAndGlyphs">6.78570</text>
<text x="1425" y="531" class="k" font-size="10" fill="#000" textLength="33" lengthAdjust="spacingAndGlyphs">6.75510</text>
<text x="1425" y="564" class="k" font-size="10" fill="#000" textLength="33" lengthAdjust="spacingAndGlyphs">6.72540</text>
<rect x="1421" y="146" width="41" height="11" fill="#ff0000" shape-rendering="crispEdges"/>
<text x="1425" y="155" font-size="10" fill="#fff" stroke="#fff" stroke-width="0.1" textLength="33" lengthAdjust="spacingAndGlyphs">7.10051</text>
<rect x="1421" y="246" width="41" height="11" fill="#000000" shape-rendering="crispEdges"/>
<text x="1425" y="255" font-size="10" fill="#fff" stroke="#fff" stroke-width="0.1" textLength="33" lengthAdjust="spacingAndGlyphs">7.00912</text>
<rect x="1421" y="254" width="41" height="11" fill="#00ff00" shape-rendering="crispEdges"/>
<text x="1425" y="263" font-size="10" fill="#f4ffe8" stroke="#f4ffe8" stroke-width="0.1" textLength="33" lengthAdjust="spacingAndGlyphs">7.00089</text>
<rect x="1421" y="363" width="41" height="11" fill="#0000ff" shape-rendering="crispEdges"/>
<text x="1425" y="372" font-size="10" fill="#fff" stroke="#fff" stroke-width="0.1" textLength="33" lengthAdjust="spacingAndGlyphs">6.90100</text>
<rect x="1421" y="450" width="41" height="11" fill="#0000ff" shape-rendering="crispEdges"/>
<text x="1425" y="459" font-size="10" fill="#fff" stroke="#fff" stroke-width="0.1" textLength="33" lengthAdjust="spacingAndGlyphs">6.82103</text>
<g clip-path="url(#cmacd)" shape-rendering="crispEdges">
<rect x="4" y="628" width="1" height="6" fill="#c0c0c0"/>
<rect x="12" y="624" width="1" height="10" fill="#c0c0c0"/>
<rect x="20" y="620" width="1" height="14" fill="#c0c0c0"/>
<rect x="28" y="616" width="1" height="18" fill="#c0c0c0"/>
<rect x="36" y="610" width="1" height="24" fill="#c0c0c0"/>
<rect x="44" y="605" width="1" height="29" fill="#c0c0c0"/>
<rect x="52" y="595" width="1" height="39" fill="#c0c0c0"/>
<rect x="60" y="589" width="1" height="45" fill="#c0c0c0"/>
<rect x="68" y="585" width="1" height="49" fill="#c0c0c0"/>
<rect x="76" y="579" width="1" height="55" fill="#c0c0c0"/>
<rect x="84" y="575" width="1" height="59" fill="#c0c0c0"/>
<rect x="92" y="573" width="1" height="61" fill="#c0c0c0"/>
<rect x="100" y="573" width="1" height="61" fill="#c0c0c0"/>
<rect x="108" y="572" width="1" height="62" fill="#c0c0c0"/>
<rect x="116" y="574" width="1" height="60" fill="#c0c0c0"/>
<rect x="124" y="577" width="1" height="57" fill="#c0c0c0"/>
<rect x="132" y="580" width="1" height="54" fill="#c0c0c0"/>
<rect x="140" y="582" width="1" height="52" fill="#c0c0c0"/>
<rect x="148" y="584" width="1" height="50" fill="#c0c0c0"/>
<rect x="156" y="585" width="1" height="49" fill="#c0c0c0"/>
<rect x="164" y="587" width="1" height="47" fill="#c0c0c0"/>
<rect x="172" y="590" width="1" height="44" fill="#c0c0c0"/>
<rect x="180" y="592" width="1" height="42" fill="#c0c0c0"/>
<rect x="188" y="594" width="1" height="40" fill="#c0c0c0"/>
<rect x="196" y="596" width="1" height="38" fill="#c0c0c0"/>
<rect x="204" y="597" width="1" height="37" fill="#c0c0c0"/>
<rect x="212" y="598" width="1" height="36" fill="#c0c0c0"/>
<rect x="220" y="601" width="1" height="33" fill="#c0c0c0"/>
<rect x="228" y="603" width="1" height="31" fill="#c0c0c0"/>
<rect x="236" y="605" width="1" height="29" fill="#c0c0c0"/>
<rect x="244" y="606" width="1" height="28" fill="#c0c0c0"/>
<rect x="252" y="608" width="1" height="26" fill="#c0c0c0"/>
<rect x="260" y="613" width="1" height="21" fill="#c0c0c0"/>
<rect x="268" y="617" width="1" height="17" fill="#c0c0c0"/>
<rect x="276" y="624" width="1" height="10" fill="#c0c0c0"/>
<rect x="284" y="628" width="1" height="6" fill="#c0c0c0"/>
<rect x="292" y="631" width="1" height="3" fill="#c0c0c0"/>
<rect x="300" y="632" width="1" height="2" fill="#c0c0c0"/>
<rect x="316" y="633" width="1" height="2" fill="#c0c0c0"/>
<rect x="324" y="633" width="1" height="4" fill="#c0c0c0"/>
<rect x="332" y="633" width="1" height="6" fill="#c0c0c0"/>
<rect x="340" y="633" width="1" height="6" fill="#c0c0c0"/>
<rect x="348" y="633" width="1" height="6" fill="#c0c0c0"/>
<rect x="356" y="633" width="1" height="6" fill="#c0c0c0"/>
<rect x="364" y="633" width="1" height="4" fill="#c0c0c0"/>
<rect x="372" y="633" width="1" height="4" fill="#c0c0c0"/>
<rect x="380" y="633" width="1" height="2" fill="#c0c0c0"/>
<rect x="388" y="633" width="1" height="4" fill="#c0c0c0"/>
<rect x="396" y="633" width="1" height="4" fill="#c0c0c0"/>
<rect x="404" y="633" width="1" height="4" fill="#c0c0c0"/>
<rect x="412" y="633" width="1" height="4" fill="#c0c0c0"/>
<rect x="420" y="633" width="1" height="4" fill="#c0c0c0"/>
<rect x="428" y="633" width="1" height="4" fill="#c0c0c0"/>
<rect x="436" y="633" width="1" height="4" fill="#c0c0c0"/>
<rect x="444" y="633" width="1" height="4" fill="#c0c0c0"/>
<rect x="452" y="633" width="1" height="3" fill="#c0c0c0"/>
<rect x="460" y="633" width="1" height="2" fill="#c0c0c0"/>
<rect x="468" y="633" width="1" height="3" fill="#c0c0c0"/>
<rect x="476" y="633" width="1" height="3" fill="#c0c0c0"/>
<rect x="484" y="633" width="1" height="3" fill="#c0c0c0"/>
<rect x="492" y="633" width="1" height="1" fill="#c0c0c0"/>
<rect x="500" y="633" width="1" height="1" fill="#c0c0c0"/>
<rect x="508" y="631" width="1" height="3" fill="#c0c0c0"/>
<rect x="516" y="624" width="1" height="10" fill="#c0c0c0"/>
<rect x="524" y="618" width="1" height="16" fill="#c0c0c0"/>
<rect x="532" y="599" width="1" height="35" fill="#c0c0c0"/>
<rect x="540" y="593" width="1" height="41" fill="#c0c0c0"/>
<rect x="548" y="585" width="1" height="49" fill="#c0c0c0"/>
<rect x="556" y="579" width="1" height="55" fill="#c0c0c0"/>
<rect x="564" y="575" width="1" height="59" fill="#c0c0c0"/>
<rect x="572" y="571" width="1" height="63" fill="#c0c0c0"/>
<rect x="580" y="577" width="1" height="57" fill="#c0c0c0"/>
<rect x="588" y="579" width="1" height="55" fill="#c0c0c0"/>
<rect x="596" y="581" width="1" height="53" fill="#c0c0c0"/>
<rect x="604" y="584" width="1" height="50" fill="#c0c0c0"/>
<rect x="612" y="584" width="1" height="50" fill="#c0c0c0"/>
<rect x="620" y="584" width="1" height="50" fill="#c0c0c0"/>
<rect x="628" y="586" width="1" height="48" fill="#c0c0c0"/>
<rect x="636" y="586" width="1" height="48" fill="#c0c0c0"/>
<rect x="644" y="582" width="1" height="52" fill="#c0c0c0"/>
<rect x="652" y="577" width="1" height="57" fill="#c0c0c0"/>
<rect x="660" y="574" width="1" height="60" fill="#c0c0c0"/>
<rect x="668" y="572" width="1" height="62" fill="#c0c0c0"/>
<rect x="676" y="573" width="1" height="61" fill="#c0c0c0"/>
<rect x="684" y="573" width="1" height="61" fill="#c0c0c0"/>
<rect x="692" y="571" width="1" height="63" fill="#c0c0c0"/>
<rect x="700" y="571" width="1" height="63" fill="#c0c0c0"/>
<rect x="708" y="575" width="1" height="59" fill="#c0c0c0"/>
<rect x="716" y="580" width="1" height="54" fill="#c0c0c0"/>
<rect x="724" y="587" width="1" height="47" fill="#c0c0c0"/>
<rect x="732" y="591" width="1" height="43" fill="#c0c0c0"/>
<rect x="740" y="596" width="1" height="38" fill="#c0c0c0"/>
<rect x="748" y="602" width="1" height="32" fill="#c0c0c0"/>
<rect x="756" y="610" width="1" height="24" fill="#c0c0c0"/>
<rect x="764" y="618" width="1" height="16" fill="#c0c0c0"/>
<rect x="772" y="622" width="1" height="12" fill="#c0c0c0"/>
<rect x="780" y="624" width="1" height="10" fill="#c0c0c0"/>
<rect x="788" y="626" width="1" height="8" fill="#c0c0c0"/>
<rect x="796" y="625" width="1" height="9" fill="#c0c0c0"/>
<rect x="804" y="624" width="1" height="10" fill="#c0c0c0"/>
<rect x="812" y="624" width="1" height="10" fill="#c0c0c0"/>
<rect x="820" y="624" width="1" height="10" fill="#c0c0c0"/>
<rect x="828" y="622" width="1" height="12" fill="#c0c0c0"/>
<rect x="836" y="621" width="1" height="13" fill="#c0c0c0"/>
<rect x="844" y="619" width="1" height="15" fill="#c0c0c0"/>
<rect x="852" y="617" width="1" height="17" fill="#c0c0c0"/>
<rect x="860" y="616" width="1" height="18" fill="#c0c0c0"/>
<rect x="868" y="615" width="1" height="19" fill="#c0c0c0"/>
<rect x="876" y="616" width="1" height="18" fill="#c0c0c0"/>
<rect x="884" y="619" width="1" height="15" fill="#c0c0c0"/>
<rect x="892" y="619" width="1" height="15" fill="#c0c0c0"/>
<rect x="900" y="617" width="1" height="17" fill="#c0c0c0"/>
<rect x="908" y="616" width="1" height="18" fill="#c0c0c0"/>
<rect x="916" y="620" width="1" height="14" fill="#c0c0c0"/>
<rect x="924" y="626" width="1" height="8" fill="#c0c0c0"/>
<rect x="932" y="631" width="1" height="3" fill="#c0c0c0"/>
<rect x="948" y="633" width="1" height="1" fill="#c0c0c0"/>
<rect x="956" y="633" width="1" height="3" fill="#c0c0c0"/>
<rect x="964" y="633" width="1" height="6" fill="#c0c0c0"/>
<rect x="972" y="633" width="1" height="8" fill="#c0c0c0"/>
<rect x="980" y="633" width="1" height="9" fill="#c0c0c0"/>
<rect x="988" y="633" width="1" height="11" fill="#c0c0c0"/>
<rect x="996" y="633" width="1" height="11" fill="#c0c0c0"/>
<rect x="1004" y="633" width="1" height="13" fill="#c0c0c0"/>
<rect x="1012" y="633" width="1" height="14" fill="#c0c0c0"/>
<rect x="1020" y="633" width="1" height="14" fill="#c0c0c0"/>
<rect x="1028" y="633" width="1" height="15" fill="#c0c0c0"/>
<rect x="1036" y="633" width="1" height="16" fill="#c0c0c0"/>
<rect x="1044" y="633" width="1" height="17" fill="#c0c0c0"/>
<rect x="1052" y="633" width="1" height="20" fill="#c0c0c0"/>
<rect x="1060" y="633" width="1" height="23" fill="#c0c0c0"/>
<rect x="1068" y="633" width="1" height="24" fill="#c0c0c0"/>
<rect x="1076" y="633" width="1" height="29" fill="#c0c0c0"/>
<rect x="1084" y="633" width="1" height="30" fill="#c0c0c0"/>
<rect x="1092" y="633" width="1" height="30" fill="#c0c0c0"/>
<rect x="1100" y="633" width="1" height="28" fill="#c0c0c0"/>
<rect x="1108" y="633" width="1" height="25" fill="#c0c0c0"/>
<rect x="1116" y="633" width="1" height="24" fill="#c0c0c0"/>
<rect x="1124" y="633" width="1" height="24" fill="#c0c0c0"/>
<rect x="1132" y="633" width="1" height="23" fill="#c0c0c0"/>
</g>
<rect x="7" y="569" width="157" height="9" fill="#fff"/>
<text x="8" y="578" class="k" font-size="10" fill="#000" textLength="155" lengthAdjust="spacingAndGlyphs">MACD(12,26,9) -0.020899 -0.023949</text>
<polyline clip-path="url(#cmacd)" points="4.5,630.7 12.5,629.2 20.5,627.5 28.5,625.5 36.5,623.1 44.5,620.4 52.5,616.7 60.5,612.5 68.5,608.1 76.5,602.6 84.5,597.1 92.5,591.9 100.5,587.0 108.5,582.8 116.5,579.4 124.5,577.3 132.5,576.3 140.5,576.0 148.5,576.6 156.5,577.7 164.5,579.2 172.5,581.2 180.5,583.4 188.5,585.7 196.5,587.9 204.5,589.8 212.5,591.5 220.5,593.4 228.5,595.4 236.5,597.4 244.5,599.3 252.5,601.0 260.5,603.1 268.5,605.4 276.5,608.3 284.5,611.7 292.5,615.0 300.5,618.2 308.5,621.4 316.5,624.6 324.5,627.8 332.5,630.8 340.5,633.2 348.5,634.9 356.5,636.1 364.5,636.8 372.5,637.3 380.5,637.6 388.5,637.7 396.5,637.7 404.5,637.4 412.5,637.2 420.5,637.0 428.5,636.7 436.5,636.7 444.5,636.7 452.5,636.7 460.5,636.6 468.5,636.5 476.5,636.5 484.5,636.3 492.5,636.1 500.5,635.7 508.5,635.0 516.5,633.6 524.5,631.6 532.5,627.6 540.5,622.8 548.5,617.0 556.5,610.7 564.5,604.1 572.5,597.1 580.5,591.1 588.5,586.1 596.5,582.0 604.5,580.3 612.5,579.3 620.5,579.3 628.5,580.0 636.5,581.3 644.5,582.5 652.5,582.5 660.5,581.9 668.5,580.9 676.5,579.7 684.5,578.4 692.5,576.9 700.5,575.3 708.5,574.1 716.5,573.9 724.5,575.0 732.5,576.9 740.5,579.7 748.5,583.0 756.5,587.2 764.5,592.4 772.5,598.1 780.5,603.5 788.5,608.6 796.5,612.9 804.5,616.6 812.5,619.6 820.5,622.0 828.5,623.4 836.5,623.7 844.5,623.3 852.5,622.5 860.5,621.4 868.5,620.2 876.5,619.4 884.5,618.8 892.5,618.2 900.5,617.6 908.5,617.0 916.5,617.1 924.5,618.0 932.5,619.7 940.5,621.7 948.5,623.7 956.5,625.6 964.5,627.8 972.5,630.4 980.5,633.3 988.5,636.0 996.5,638.0 1004.5,639.8 1012.5,641.3 1020.5,642.7 1028.5,644.1 1036.5,645.3 1044.5,646.4 1052.5,647.5 1060.5,648.9 1068.5,650.4 1076.5,652.1 1084.5,654.0 1092.5,655.7 1100.5,657.1 1108.5,658.1 1116.5,658.8 1124.5,659.3 1132.5,659.3" fill="none" stroke="#ff0000" stroke-width="1" stroke-dasharray="3,3" shape-rendering="crispEdges"/>
<g shape-rendering="crispEdges"><rect x="1420" y="567" width="1" height="1" fill="#000"/><rect x="1420" y="633" width="1" height="1" fill="#000"/><rect x="1420" y="668" width="1" height="1" fill="#000"/></g>
<text x="1423" y="576" class="k" font-size="10" fill="#000" textLength="37" lengthAdjust="spacingAndGlyphs">0.060273</text>
<text x="1423" y="637" class="k" font-size="10" fill="#000" textLength="19" lengthAdjust="spacingAndGlyphs">0.00</text>
<text x="1423" y="666" class="k" font-size="10" fill="#000" textLength="39" lengthAdjust="spacingAndGlyphs">-0.031725</text>
<g shape-rendering="crispEdges">
<line x1="5" y1="711.5" x2="1419" y2="711.5" stroke="#c0c0c0" stroke-dasharray="3,3"/>
<line x1="5" y1="762.5" x2="1419" y2="762.5" stroke="#c0c0c0" stroke-dasharray="3,3"/>
</g>
<polyline clip-path="url(#crsi)" points="4.5,731.0 12.5,714.6 20.5,712.5 28.5,710.5 36.5,703.8 44.5,702.7 52.5,693.6 60.5,698.2 68.5,698.6 76.5,695.7 84.5,695.2 92.5,699.3 100.5,702.7 108.5,701.3 116.5,705.4 124.5,711.5 132.5,714.2 140.5,709.7 148.5,707.7 156.5,706.6 164.5,708.8 172.5,717.8 180.5,715.7 188.5,714.7 196.5,714.4 204.5,710.0 212.5,710.0 220.5,722.2 228.5,721.5 236.5,719.8 244.5,718.8 252.5,720.7 260.5,740.9 268.5,741.7 276.5,753.6 284.5,750.7 292.5,745.6 300.5,740.9 308.5,741.6 316.5,746.9 324.5,747.6 332.5,752.2 340.5,739.1 348.5,739.5 356.5,743.1 364.5,733.5 372.5,736.4 380.5,734.0 388.5,743.5 396.5,741.3 404.5,739.6 412.5,742.4 420.5,738.3 428.5,740.0 436.5,742.3 444.5,737.7 452.5,737.2 460.5,736.2 468.5,742.9 476.5,743.4 484.5,737.0 492.5,730.8 500.5,733.2 508.5,723.2 516.5,705.6 524.5,704.6 532.5,689.1 540.5,713.3 548.5,709.7 556.5,710.6 564.5,709.2 572.5,708.9 580.5,729.1 588.5,724.3 596.5,724.9 604.5,725.1 612.5,720.9 620.5,720.9 628.5,722.6 636.5,718.7 644.5,712.3 652.5,708.5 660.5,709.6 668.5,709.2 676.5,717.1 684.5,714.0 692.5,710.3 700.5,715.3 708.5,723.6 716.5,725.1 724.5,734.1 732.5,731.0 740.5,733.2 748.5,737.8 756.5,744.0 764.5,747.4 772.5,742.3 780.5,737.5 788.5,737.1 796.5,733.0 804.5,730.1 812.5,732.7 820.5,733.2 828.5,728.0 836.5,728.6 844.5,723.2 852.5,724.8 860.5,723.7 868.5,724.4 876.5,730.7 884.5,737.6 892.5,730.3 900.5,723.4 908.5,725.0 916.5,741.0 924.5,747.3 932.5,748.4 940.5,743.7 948.5,738.1 956.5,744.5 964.5,745.8 972.5,746.4 980.5,745.2 988.5,748.1 996.5,744.2 1004.5,750.2 1012.5,745.6 1020.5,745.2 1028.5,750.5 1036.5,750.1 1044.5,751.6 1052.5,756.0 1060.5,761.1 1068.5,756.1 1076.5,764.3 1084.5,757.2 1092.5,750.9 1100.5,746.1 1108.5,743.6 1116.5,747.3 1124.5,750.2 1132.5,747.7" fill="none" stroke="#1e90ff" stroke-width="1" shape-rendering="crispEdges"/>
<text x="8" y="684" class="k" font-size="10" fill="#000" textLength="68" lengthAdjust="spacingAndGlyphs">RSI(14) 41.7096</text>
<polygon points="4,796 4,801 9,801" fill="#c0c0c0"/>
<g shape-rendering="crispEdges"><rect x="1420" y="673" width="1" height="1" fill="#000"/><rect x="1420" y="800" width="1" height="1" fill="#000"/></g>
<text x="1424" y="682" class="k" font-size="10" fill="#000" textLength="14" lengthAdjust="spacingAndGlyphs">100</text>
<text x="1424" y="715" class="k" font-size="10" fill="#000" textLength="9.5" lengthAdjust="spacingAndGlyphs">70</text>
<text x="1424" y="766" class="k" font-size="10" fill="#000" textLength="9.5" lengthAdjust="spacingAndGlyphs">30</text>
<text x="1424" y="798" class="k" font-size="10" fill="#000" textLength="5" lengthAdjust="spacingAndGlyphs">0</text>
<rect x="4" y="802" width="1" height="2" fill="#000" shape-rendering="crispEdges"/>
<text x="3" y="814" class="k" font-size="10" fill="#000" textLength="50.3" lengthAdjust="spacingAndGlyphs">3 May 2019</text>
<rect x="68" y="802" width="1" height="2" fill="#000" shape-rendering="crispEdges"/>
<text x="67" y="814" class="k" font-size="10" fill="#000" textLength="55.6" lengthAdjust="spacingAndGlyphs">15 May 2019</text>
<rect x="132" y="802" width="1" height="2" fill="#000" shape-rendering="crispEdges"/>
<text x="131" y="814" class="k" font-size="10" fill="#000" textLength="55.6" lengthAdjust="spacingAndGlyphs">27 May 2019</text>
<rect x="196" y="802" width="1" height="2" fill="#000" shape-rendering="crispEdges"/>
<text x="195" y="814" class="k" font-size="10" fill="#000" textLength="47.6" lengthAdjust="spacingAndGlyphs">6 Jun 2019</text>
<rect x="260" y="802" width="1" height="2" fill="#000" shape-rendering="crispEdges"/>
<text x="259" y="814" class="k" font-size="10" fill="#000" textLength="53.0" lengthAdjust="spacingAndGlyphs">18 Jun 2019</text>
<rect x="324" y="802" width="1" height="2" fill="#000" shape-rendering="crispEdges"/>
<text x="323" y="814" class="k" font-size="10" fill="#000" textLength="53.0" lengthAdjust="spacingAndGlyphs">28 Jun 2019</text>
<rect x="388" y="802" width="1" height="2" fill="#000" shape-rendering="crispEdges"/>
<text x="387" y="814" class="k" font-size="10" fill="#000" textLength="49.7" lengthAdjust="spacingAndGlyphs">10 Jul 2019</text>
<rect x="452" y="802" width="1" height="2" fill="#000" shape-rendering="crispEdges"/>
<text x="451" y="814" class="k" font-size="10" fill="#000" textLength="49.7" lengthAdjust="spacingAndGlyphs">22 Jul 2019</text>
<rect x="516" y="802" width="1" height="2" fill="#000" shape-rendering="crispEdges"/>
<text x="515" y="814" class="k" font-size="10" fill="#000" textLength="49.2" lengthAdjust="spacingAndGlyphs">1 Aug 2019</text>
<rect x="580" y="802" width="1" height="2" fill="#000" shape-rendering="crispEdges"/>
<text x="579" y="814" class="k" font-size="10" fill="#000" textLength="54.6" lengthAdjust="spacingAndGlyphs">13 Aug 2019</text>
<rect x="644" y="802" width="1" height="2" fill="#000" shape-rendering="crispEdges"/>
<text x="643" y="814" class="k" font-size="10" fill="#000" textLength="54.6" lengthAdjust="spacingAndGlyphs">23 Aug 2019</text>
<rect x="708" y="802" width="1" height="2" fill="#000" shape-rendering="crispEdges"/>
<text x="707" y="814" class="k" font-size="10" fill="#000" textLength="49.2" lengthAdjust="spacingAndGlyphs">4 Sep 2019</text>
<rect x="772" y="802" width="1" height="2" fill="#000" shape-rendering="crispEdges"/>
<text x="771" y="814" class="k" font-size="10" fill="#000" textLength="54.6" lengthAdjust="spacingAndGlyphs">16 Sep 2019</text>
<rect x="836" y="802" width="1" height="2" fill="#000" shape-rendering="crispEdges"/>
<text x="835" y="814" class="k" font-size="10" fill="#000" textLength="54.6" lengthAdjust="spacingAndGlyphs">26 Sep 2019</text>
<rect x="900" y="802" width="1" height="2" fill="#000" shape-rendering="crispEdges"/>
<text x="899" y="814" class="k" font-size="10" fill="#000" textLength="47.1" lengthAdjust="spacingAndGlyphs">8 Oct 2019</text>
<rect x="964" y="802" width="1" height="2" fill="#000" shape-rendering="crispEdges"/>
<text x="963" y="814" class="k" font-size="10" fill="#000" textLength="52.4" lengthAdjust="spacingAndGlyphs">18 Oct 2019</text>
<rect x="1028" y="802" width="1" height="2" fill="#000" shape-rendering="crispEdges"/>
<text x="1027" y="814" class="k" font-size="10" fill="#000" textLength="52.4" lengthAdjust="spacingAndGlyphs">30 Oct 2019</text>
<rect x="1092" y="802" width="1" height="2" fill="#000" shape-rendering="crispEdges"/>
<text x="1091" y="814" class="k" font-size="10" fill="#000" textLength="54.6" lengthAdjust="spacingAndGlyphs">11 Nov 2019</text>
<rect x="0" y="822" width="1462" height="1" fill="#e3e3e3"/>
<rect x="0" y="824" width="1462" height="1" fill="#000"/>
<rect x="2" y="826" width="1460" height="17" fill="#f0f0f0"/>
<rect x="0" y="825" width="1" height="18" fill="#6a6a6a"/>
<path d="M437.5,843V824.5H548.5V843" fill="#fff" stroke="#000" shape-rendering="crispEdges"/>
<rect x="437" y="841" width="112" height="1" fill="#000"/>
<rect x="113" y="827" width="1" height="13" fill="#808080"/>
<rect x="221" y="827" width="1" height="13" fill="#808080"/>
<rect x="330" y="827" width="1" height="13" fill="#808080"/>
<rect x="670" y="827" width="1" height="13" fill="#808080"/>
<rect x="793" y="827" width="1" height="13" fill="#808080"/>
<rect x="889" y="827" width="1" height="13" fill="#808080"/>
<rect x="969" y="827" width="1" height="13" fill="#808080"/>
<rect x="1073" y="827" width="1" height="13" fill="#808080"/>
<rect x="1165" y="827" width="1" height="13" fill="#808080"/>
<rect x="1257" y="827" width="1" height="13" fill="#808080"/>
<text x="16.5" y="838.5" font-size="12" fill="#6a6a6a" textLength="84.5" lengthAdjust="spacingAndGlyphs">EURUSD-,Daily</text>
<text x="123" y="838.5" font-size="12" fill="#6a6a6a" textLength="87" lengthAdjust="spacingAndGlyphs">AUDUSD-,Daily</text>
<text x="233.5" y="838.5" font-size="12" fill="#6a6a6a" textLength="83.5" lengthAdjust="spacingAndGlyphs">USDCHF-,Daily</text>
<text x="340" y="838.5" font-size="12" fill="#6a6a6a" textLength="86" lengthAdjust="spacingAndGlyphs">USDCAD-,Daily</text>
<text x="449.5" y="838.5" font-size="12" fill="#000" textLength="87.5" lengthAdjust="spacingAndGlyphs">USDCNH-,Daily</text>
<text x="560" y="838.5" font-size="12" fill="#6a6a6a" textLength="97" lengthAdjust="spacingAndGlyphs">EURCHF-,Weekly</text>
<text x="681" y="838.5" font-size="12" fill="#6a6a6a" textLength="100" lengthAdjust="spacingAndGlyphs">XAUUSD-,Weekly</text>
<text x="804.5" y="838.5" font-size="12" fill="#6a6a6a" textLength="72.5" lengthAdjust="spacingAndGlyphs">GBPUSD-,H1</text>
<text x="900" y="838.5" font-size="12" fill="#6a6a6a" textLength="56" lengthAdjust="spacingAndGlyphs">UKOil-,H1</text>
<text x="979.5" y="838.5" font-size="12" fill="#6a6a6a" textLength="82.5" lengthAdjust="spacingAndGlyphs">USDX-,Weekly</text>
<text x="1083.5" y="838.5" font-size="12" fill="#6a6a6a" textLength="70.5" lengthAdjust="spacingAndGlyphs">EURCHF-,H1</text>
<text x="1177.5" y="838.5" font-size="12" fill="#6a6a6a" textLength="67.5" lengthAdjust="spacingAndGlyphs">USOil-,Daily</text>
<polygon points="1438,830 1438,836 1435,833" fill="#909090"/><polygon points="1454,830 1454,836 1457,833" fill="#909090"/>
<rect x="0" y="843" width="1462" height="2" fill="#fafafa"/>
</svg></body></html>
